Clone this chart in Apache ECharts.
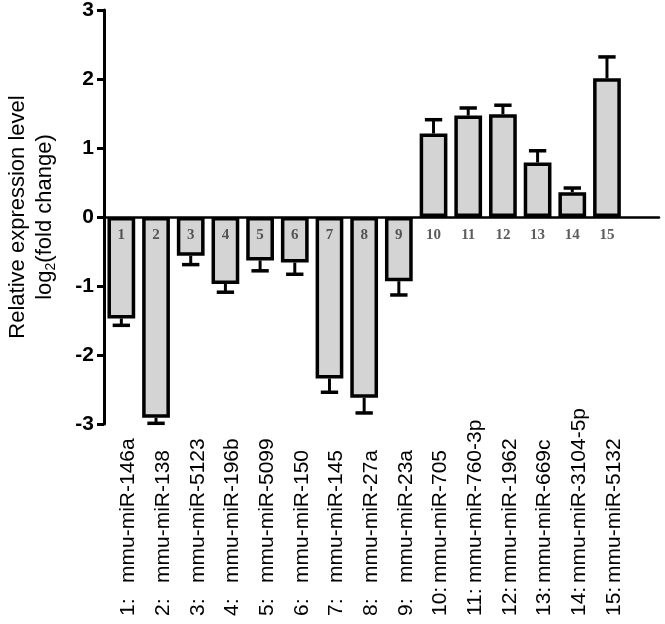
<!DOCTYPE html>
<html>
<head>
<meta charset="utf-8">
<script src="https://cdn.jsdelivr.net/npm/echarts@6/dist/echarts.min.js"></script>
<style>html,body{margin:0;padding:0;background:#fff;}#c{width:665px;height:624px;}</style>
</head>
<body>
<div id="c"></div>
<script>
const categories = ['mmu-miR-146a','mmu-miR-138','mmu-miR-5123','mmu-miR-196b','mmu-miR-5099','mmu-miR-150','mmu-miR-145','mmu-miR-27a','mmu-miR-23a','mmu-miR-705','mmu-miR-760-3p','mmu-miR-1962','mmu-miR-669c','mmu-miR-3104-5p','mmu-miR-5132'];
const barNumbers = ['1','2','3','4','5','6','7','8','9','10','11','12','13','14','15'];
const means = [-1.47,-2.91,-0.56,-0.97,-0.63,-0.66,-2.34,-2.62,-0.93,1.21,1.47,1.49,0.79,0.36,2.01];
const errors = [0.10,0.08,0.13,0.12,0.15,0.17,0.20,0.22,0.20,0.20,0.11,0.13,0.17,0.06,0.31];
const yMin = -3, yMax = 3, yStep = 1;
const yTitleLine1 = 'Relative expression level';
const yTitleLine2 = ['log','2','(fold change)'];

const axisCats = categories.concat(['']);
const chart = echarts.init(document.getElementById('c'), null, {renderer:'canvas'});
chart.setOption({
  animation:false,
  backgroundColor:'#fff',
  grid:{left:104, right:6, top:10, bottom:200, containLabel:false, outerBoundsMode:'none'},
  xAxis:{
    type:'category', data:axisCats, boundaryGap:true,
    axisLine:{show:true, onZero:true, lineStyle:{color:'#000', width:2.5}},
    axisTick:{show:false},
    axisLabel:{
      interval:0, rotate:90, align:'left', verticalAlign:'middle', margin:192,
      padding:[14,0,0,0],
      fontFamily:'Liberation Sans', fontSize:21, color:'#000',
      hideOverlap:false,
      formatter:function(v, i){ return v ? '{n|' + barNumbers[i] + ':}{t|' + v + '}' : ''; },
      rich:{
        n:{width:33, fontFamily:'Liberation Sans', fontSize:21, color:'#000'},
        t:{fontFamily:'Liberation Sans', fontSize:21, color:'#000'}
      }
    },
    splitLine:{show:false}
  },
  yAxis:{
    type:'value', min:yMin, max:yMax, interval:yStep,
    axisLine:{show:true, lineStyle:{color:'#000', width:3}},
    axisTick:{show:true, inside:false, length:7, lineStyle:{color:'#000', width:3}},
    axisLabel:{fontFamily:'Liberation Sans', fontWeight:'bold', fontSize:21, color:'#000', margin:10},
    splitLine:{show:false},
    name:'{a|' + yTitleLine1 + '}\n{a|' + yTitleLine2[0] + '}{s|' + yTitleLine2[1] + '}{a|' + yTitleLine2[2] + '}',
    nameLocation:'middle', nameRotate:90, nameGap:46,
    nameTextStyle:{
      rich:{
        a:{fontFamily:'Liberation Sans', fontSize:22, color:'#000', lineHeight:27},
        s:{fontFamily:'Liberation Sans', fontSize:14, color:'#000', lineHeight:27, verticalAlign:'bottom'}
      }
    }
  },
  series:[
    {
      type:'bar', data:means, barWidth:'80%',
      itemStyle:{color:'#d4d4d4', borderColor:'#000', borderWidth:3.5},
      z:2
    },
    {
      type:'custom', z:3, silent:true,
      data:means.map(function(m,i){return [i, m, errors[i]];}),
      encode:{x:0, y:1},
      renderItem:function(params, api){
        const i = api.value(0), m = api.value(1), e = api.value(2);
        const base = api.coord([i, m]);
        const tip = api.coord([i, m + (m < 0 ? -e : e)]);
        const w = api.size([1, 0])[0] * 0.5;
        return {type:'group', children:[
          {type:'line', shape:{x1:base[0], y1:base[1], x2:tip[0], y2:tip[1]}, style:{stroke:'#000', lineWidth:3}},
          {type:'line', shape:{x1:tip[0]-w/2, y1:tip[1], x2:tip[0]+w/2, y2:tip[1]}, style:{stroke:'#000', lineWidth:3.5}}
        ]};
      }
    },
    {
      type:'scatter', z:4, silent:true,
      data:means.map(function(){return 0;}),
      symbolSize:1, itemStyle:{color:'rgba(0,0,0,0)'},
      label:{
        show:true, position:'bottom', distance:10,
        formatter:function(p){return barNumbers[p.dataIndex];},
        fontFamily:'Liberation Serif', fontWeight:'bold', fontSize:15, color:'#333'
      }
    }
  ]
});
</script>
</body>
</html>
